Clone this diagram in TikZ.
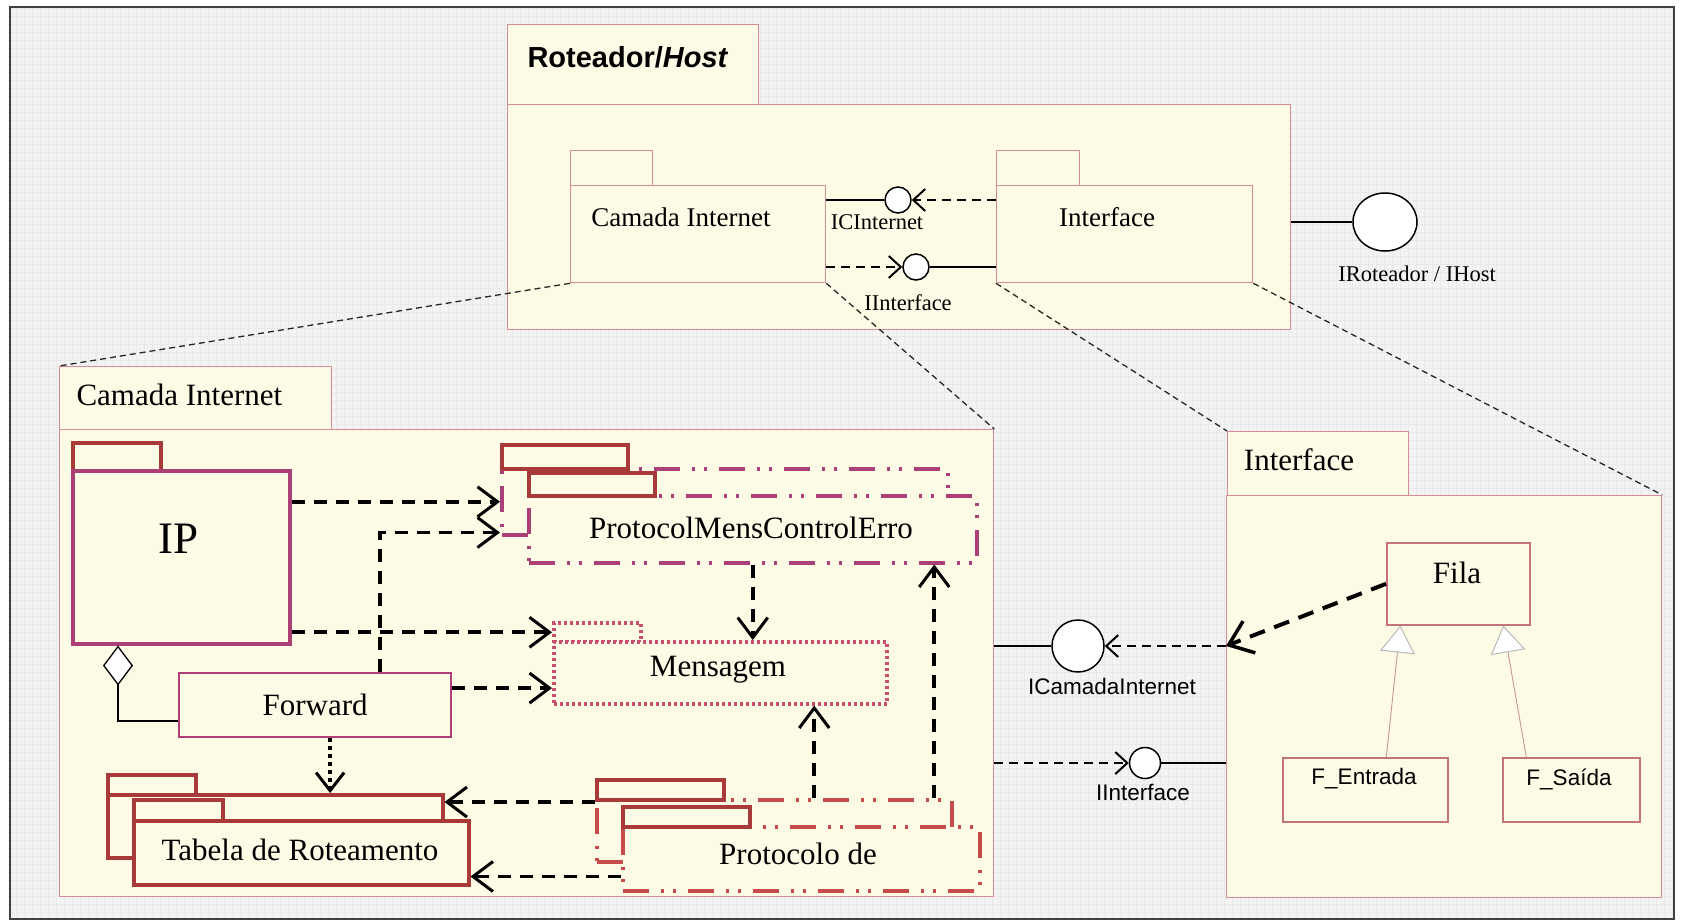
\documentclass[tikz,border=0pt]{standalone}
\usepackage{fontspec}
\setmainfont{Liberation Serif}
\setsansfont{Liberation Sans}
\usetikzlibrary{arrows.meta,calc,positioning,shapes.geometric}

\definecolor{cream}{RGB}{253,251,229}
\definecolor{paper}{RGB}{243,243,243}
\definecolor{paperline}{RGB}{233,233,233}
\definecolor{pkgline}{RGB}{215,140,150}
\definecolor{tabred}{RGB}{168,58,58}
\definecolor{bodymag}{RGB}{172,64,118}
\definecolor{dotmag}{RGB}{200,80,110}
\definecolor{protored}{RGB}{200,75,75}
\definecolor{clsline}{RGB}{195,115,125}
\definecolor{genline}{RGB}{200,150,155}

\begin{document}
\begin{tikzpicture}[
        x=1pt, y=-1pt,
    sz/.style 2 args={minimum width=#1pt, minimum height=#2pt},
    mybox/.style={rectangle, anchor=north west, inner sep=0pt, fill=cream},
    mypkg/.style={mybox, draw=pkgline, line width=1.3pt},
    mytab/.style={mybox, draw=tabred, line width=3.5pt},
    mymag/.style={mybox, draw=bodymag, line width=3.5pt},
    mydashdot/.style={mybox, draw=#1, line width=3.5pt,
        dash pattern=on 26pt off 12pt on 3pt off 9pt on 3pt off 12pt},
    mydotted/.style={mybox, draw=dotmag, line width=3.5pt, dash pattern=on 3pt off 3pt},
    myclass/.style={mybox, draw=clsline, line width=1.6pt},
    mylolli/.style={circle, draw=black, fill=white, line width=1.5pt, inner sep=0pt},
    bigfont/.style={font=\fontsize{31}{36}\selectfont},
    midfont/.style={font=\fontsize{27}{32}\selectfont},
    smallfont/.style={font=\fontsize{22.5}{26}\selectfont},
    sansfont/.style={font=\sffamily\fontsize{22.5}{26}\selectfont},
    titlefont/.style={font=\sffamily\bfseries\fontsize{29}{34}\selectfont},
    myarrow/.style={line width=3.7pt, dash pattern=on 13pt off 9pt,
        -{Straight Barb[length=20pt, width=30pt, line width=3pt]}},
    mydotarrow/.style={line width=4pt, dash pattern=on 4pt off 4pt,
        -{Straight Barb[length=18pt, width=28pt, line width=3pt]}},
    mybigarrow/.style={line width=4pt, dash pattern=on 16pt off 10pt,
        -{Straight Barb[length=22pt, width=34pt, line width=3.5pt]}},
    myport/.style={line width=2pt, dash pattern=on 9pt off 6pt,
        -{Straight Barb[length=12pt, width=22pt, line width=2pt]}},
    mystem/.style={line width=1.5pt},
    mylink/.style={black!85, line width=1.3pt, dash pattern=on 6pt off 4pt},
    myaggr/.style={line width=1.3pt, -{Diamond[length=40pt, width=30pt, fill=white]}},
    mygen/.style={genline, line width=0.9pt,
        -{Triangle[length=27pt, width=35pt, color=gray!55, fill=white, line width=1pt]}}
    ]
    % page
    \useasboundingbox (0,0) rectangle (1689,922);
    \fill[white] (0,0) rectangle (1689,922);
    \fill[paper] (10,7) rectangle (1674,919);
    \draw[paperline, line width=0.5pt, step=8pt] (10,7) grid (1674,919);
    \draw[black!75, line width=2pt] (10,7) rectangle (1674,919);

    % Roteador/Host
    \node[mypkg, sz={251}{80}] (rtt) at (507,24) {};
    \node[mypkg, sz={783}{225}] (rtb) at (507,104) {};
    \node[titlefont, anchor=west] (rtlbl) at (524,57) {Roteador/\textit{Host}};

    \node[mypkg, sz={82}{35}] (cist) at (570,150) {};
    \node[mypkg, sz={255}{97}] (cisb) at (570,185) {};
    \node[midfont] (cislbl) at (681,217) {Camada Internet};
    \node[mypkg, sz={83}{35}] (ifst) at (996,150) {};
    \node[mypkg, sz={256}{97}] (ifsb) at (996,185) {};
    \node[midfont] (ifslbl) at (1107,217) {Interface};

    \node[mylolli, minimum size=26pt] (ici) at (898,200) {};
    \node[mylolli, minimum size=26pt] (iit) at (916,267) {};
    \node[mylolli, ellipse, minimum width=64pt, minimum height=58pt] (irh) at (1385,222) {};
    \node[smallfont] (icilbl) at (877,222) {ICInternet};
    \node[smallfont] (iitlbl) at (908,303) {IInterface};
    \node[smallfont] (irhlbl) at (1417,274) {IRoteador / IHost};

    % Camada Internet
    \node[mypkg, sz={272}{63}] (cit) at (59,366) {};
    \node[mypkg, sz={934}{467}] (cib) at (59,429) {};
    \node[bigfont, anchor=west] (citlbl) at (73,395) {Camada Internet};

    \node[mytab, sz={88}{28}] (ipt) at (71,441) {};
    \node[mymag, sz={217}{173}] (ipb) at (71,469) {};
    \node[font=\fontsize{45}{50}\selectfont] (iplbl) at (179,539) {IP};

    \node[mydashdot=bodymag, sz={446}{66}] (pmcb) at (500,467) {};
    \node[mytab, sz={126}{24}] (pmcbt) at (500,443) {};
    \node[mydashdot=bodymag, sz={448}{67}] (pmcf) at (527,494) {};
    \node[mytab, sz={126}{23}] (pmcft) at (527,471) {};
    \node[bigfont] (pmclbl) at (751,528) {ProtocolMensControlErro};

    \node[mydotted, sz={87}{19}] (msgt) at (552,621) {};
    \node[mydotted, sz={333}{62}] (msgb) at (552,640) {};
    \node[bigfont] (msglbl) at (718,670) {Mensagem};

    \node[mymag, line width=2.2pt, sz={272}{64}, bigfont] (fwd) at (178,672) {Forward};

    \node[mytab, sz={335}{63}] (tbb) at (106,793) {};
    \node[mytab, sz={88}{20}] (tbbt) at (106,773) {};
    \node[mytab, sz={335}{64}] (tbf) at (132,819) {};
    \node[mytab, sz={89}{21}] (tbft) at (132,798) {};
    \node[bigfont] (tbllbl) at (300,850) {Tabela de Roteamento};

    \node[mydashdot=protored, sz={355}{62}] (prb) at (595,798) {};
    \node[mytab, sz={127}{20}] (prbt) at (595,778) {};
    \node[mydashdot=protored, sz={357}{64}] (prf) at (621,825) {};
    \node[mytab, sz={127}{20}] (prft) at (621,805) {};
    \node[bigfont] (prlbl) at (798,854) {Protocolo de};

    % Interface
    \node[mypkg, sz={181}{64}] (ift) at (1227,431) {};
    \node[mypkg, sz={435}{402}] (ifb) at (1226,495) {};
    \node[bigfont] (iftlbl) at (1299,460) {Interface};

    \node[myclass, sz={143}{82}] (fila) at (1386,542) {};
    \node[bigfont] (filalbl) at (1457,573) {Fila};
    \node[myclass, sz={165}{64}] (fent) at (1282,757) {};
    \node[sansfont] (fentlbl) at (1364,779) {F\_Entrada};
    \node[myclass, sz={137}{64}] (fsai) at (1502,757) {};
    \node[sansfont] (fsailbl) at (1569,779) {F\_Saída};

    \node[mylolli, minimum size=52pt] (icam) at (1078,646) {};
    \node[sansfont] (icamlbl) at (1112,686) {ICamadaInternet};
    \node[mylolli, minimum size=31pt] (iib) at (1145,763) {};
    \node[sansfont] (iiblbl) at (1143,792) {IInterface};
    \coordinate (ifport) at (ifb.west |- icam);

    % lollipops and their users
    \foreach \c/\s in {ici/cisb.east, iit/ifsb.west, irh/rtb.east, icam/cib.east, iib/ifb.west}
        \draw[mystem] (\c -| \s) -- (\c);
    \foreach \c/\s in {ici/ifsb.west, iit/cisb.east, iib/cib.east}
        \draw[myport] (\c -| \s) -- (\c);
    \draw[myport] (ifport) -- (icam);
    \draw[mybigarrow] (fila.west) -- (ifport);

    % dependencies in Camada Internet
    \coordinate (fwdup) at ($(fwd.north)+(65,0)$);
    \coordinate (fwdr) at ($(fwd.east)+(0,-17)$);
    \coordinate (fwdd) at ($(fwd.south)+(15,0)$);
    \coordinate (prl1) at ($(prb.north west)+(0,4)$);
    \coordinate (prl2) at ($(prf.south west)+(0,-16)$);
    \coordinate (pru1) at ($(prb.north)+(40,0)$);
    \coordinate (pru2) at ($(prb.north)+(160,0)$);
    \draw[myarrow] (ipb.east |- pmcb.west) -- (pmcb.west);
    \draw[myarrow] (fwdup) |- ($(pmcb.south west)+(0,-4)$);
    \draw[myarrow] (ipb.east |- msgt.west) -- (msgt.west);
    \draw[myarrow] (fwdr) -- (fwdr -| msgb.west);
    \draw[myarrow] (pmcf.south) -- (pmcf.south |- msgb.north);
    \draw[mydotarrow] (fwdd) -- (fwdd |- tbb.north);
    \draw[myarrow] (prl1) -- (prl1 -| tbb.east);
    \draw[myarrow] (prl2) -- (prl2 -| tbf.east);
    \draw[myarrow] (pru1) -- (pru1 |- msgb.south);
    \draw[myarrow] (pru2) -- (pru2 |- pmcf.south);
    \draw[myaggr] ($(fwd.west)+(0,16)$) -| ($(ipb.south west)+(47,0)$);

    % generalizations
    \draw[mygen] ($(fent.north)+(21,0)$) -- ($(fila.south)+(-58,0)$);
    \draw[mygen] ($(fsai.north)+(-45,0)$) -- ($(fila.south)+(45,0)$);

    % package contents
    \foreach \a/\b in {cisb.south west/cit.north west, cisb.south east/cib.north east,
        ifsb.south west/ift.north west, ifsb.south east/ifb.north east}
        \draw[mylink] (\a) -- (\b);
\end{tikzpicture}
\end{document}
